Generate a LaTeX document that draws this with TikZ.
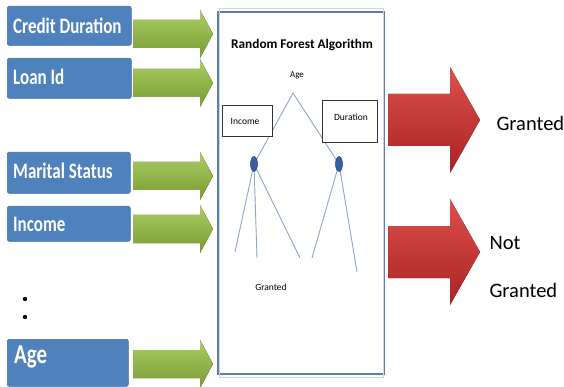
\documentclass[tikz,border=0pt]{standalone}
\usepackage{fontspec}
\setmainfont{Carlito}
\usetikzlibrary{shapes.geometric}
\definecolor{boxblue}{RGB}{79,129,189}
\definecolor{boxedge}{RGB}{65,110,165}
\definecolor{greenlight}{RGB}{170,205,100}
\definecolor{greendark}{RGB}{120,155,50}
\definecolor{redlight}{RGB}{222,80,75}
\definecolor{reddark}{RGB}{170,35,35}
\definecolor{frameblue}{RGB}{95,125,165}
\definecolor{frameinner}{RGB}{200,215,235}
\definecolor{treeline}{RGB}{140,165,200}
\definecolor{treenode}{RGB}{55,95,160}
\tikzset{
  inbox/.style={rectangle, rounded corners=2pt, fill=boxblue, draw=boxedge, line width=0.6pt, inner sep=0pt, anchor=north west},
  intext/.style={anchor=west, text=white, font=\bfseries\fontsize{17}{20}\selectfont, inner sep=0pt},
  garrow/.style={top color=greenlight, bottom color=greendark, draw=none},
  rarrow/.style={top color=redlight, bottom color=reddark, draw=none},
  tline/.style={draw=treeline, line width=0.9pt},
  tnode/.style={ellipse, fill=treenode, draw=treenode!70!black, line width=0.5pt, minimum width=7pt, minimum height=15pt, inner sep=0pt},
  sbox/.style={rectangle, draw=black!80, fill=white, line width=0.8pt, inner sep=0pt, anchor=north west},
  smalltext/.style={font=\fontsize{9.5}{11}\selectfont},
  outtext/.style={font=\fontsize{20.5}{24}\selectfont, anchor=west}
}
\newcommand\greenarr[1]{\fill[garrow] (133,{#1-14}) -- (200,{#1-14}) -- (200,{#1-24}) -- (213,#1) -- (200,{#1+24}) -- (200,{#1+14}) -- (133,{#1+14}) -- cycle;}
\newcommand\redarr[1]{\fill[rarrow] (388,{#1-26}) -- (450,{#1-26}) -- (450,{#1-53}) -- (480,#1) -- (450,{#1+53}) -- (450,{#1+26}) -- (388,{#1+26}) -- cycle;}
\newcommand\bt[1]{\scalebox{1}[1.3]{#1}}
\begin{document}
\begin{tikzpicture}[x=1pt,y=-1pt]
\useasboundingbox (0,0) rectangle (564,387);
% input boxes
\node[inbox, minimum width=124pt, minimum height=39pt] (credit) at (7,6) {};
\node[intext] (creditT) at (13,26) {\bt{Credit Duration}};
\node[inbox, minimum width=124pt, minimum height=40pt] (loan) at (7,58) {};
\node[intext] (loanT) at (13,77) {\bt{Loan Id}};
\node[inbox, minimum width=123pt, minimum height=41pt] (marital) at (7,152) {};
\node[intext] (maritalT) at (13,171) {\bt{Marital Status}};
\node[inbox, minimum width=123pt, minimum height=35pt] (income) at (7,206) {};
\node[intext] (incomeT) at (13,224) {\bt{Income}};
\node[inbox, minimum width=121pt, minimum height=47pt] (age) at (7,339) {};
\node[intext, font=\bfseries\fontsize{21}{24}\selectfont] (ageT) at (14,357) {\bt{Age}};
% dots
\fill (25,299) circle (2.2pt);
\fill (25,317) circle (2.2pt);
% green arrows
\greenarr{34}
\greenarr{83}
\greenarr{176}
\greenarr{229}
\greenarr{364}
% main frame
\node[draw=frameblue, line width=2.2pt, minimum width=166pt, minimum height=362pt, anchor=north west, inner sep=0pt] (frame) at (217,11) {};
\draw[frameinner, line width=0.8pt] ([shift={(2.2,-2.2)}]frame.north west) rectangle ([shift={(-2.2,2.2)}]frame.south east);
\node[font=\bfseries\fontsize{13.3}{16}\selectfont] (title) at (302,45) {Random Forest Algorithm};
\node[font=\fontsize{9}{11}\selectfont, inner sep=1pt] (ageL) at (297,75) {Age};
\coordinate (apex) at (293,93);
\coordinate (l1) at (235,252);
\coordinate (l2) at (257,258);
\coordinate (l3) at (300,258);
\coordinate (l4) at (312,258);
\coordinate (l5) at (357,272);
\path (254,164) coordinate (p1) (339,164) coordinate (p2);
\draw[tline] (apex) -- (p1);
\draw[tline] (apex) -- (p2);
\draw[tline] (p1) -- (l1);
\draw[tline] (p1) -- (l2);
\draw[tline] (p1) -- (l3);
\draw[tline] (p2) -- (l4);
\draw[tline] (p2) -- (l5);
\node[tnode] (n1) at (p1) {};
\node[tnode] (n2) at (p2) {};
\node[sbox, minimum width=50pt, minimum height=31pt] (incBox) at (222,105) {};
\node[smalltext] (incL) at (245,121) {Income};
\node[sbox, minimum width=55pt, minimum height=42pt] (durBox) at (322,100) {};
\node[smalltext] (durL) at (351,117) {Duration};
\node[smalltext] (grantL) at (271,287) {Granted};
% red arrows
\redarr{120}
\redarr{252}
\node[outtext] (granted) at (493,123) {Granted};
\node[outtext] (notL) at (486,243) {Not};
\node[outtext] (notG) at (486,290) {Granted};
\end{tikzpicture}
\end{document}
